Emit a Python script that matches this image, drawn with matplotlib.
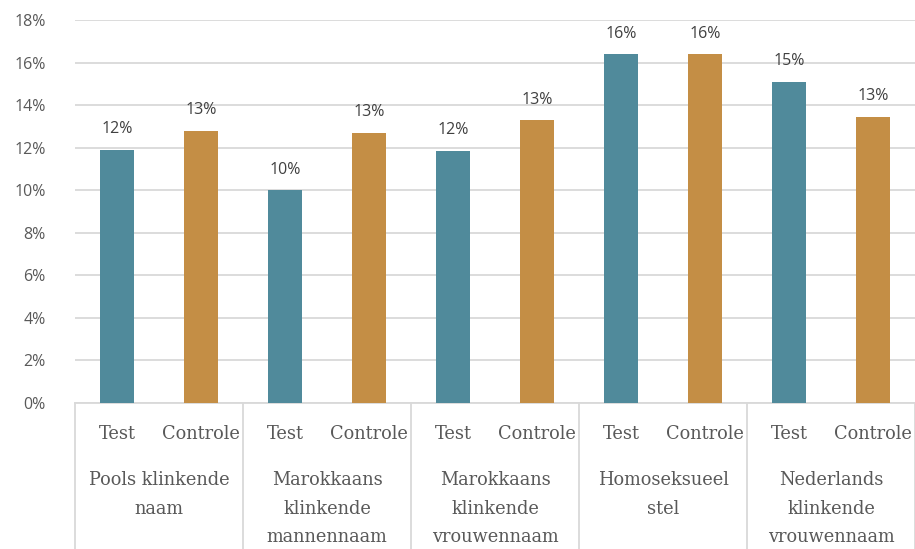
import matplotlib.pyplot as plt
import matplotlib.transforms as mtrans
import numpy as np

groups = ['Pools klinkende\nnaam', 'Marokkaans\nklinkende\nmannennaam',
          'Marokkaans\nklinkende\nvrouwennaam', 'Homoseksueel\nstel',
          'Nederlands\nklinkende\nvrouwennaam']
sub_labels = ['Test', 'Controle']
test = [11.9, 10.0, 11.85, 16.4, 15.1]
controle = [12.8, 12.7, 13.3, 16.4, 13.45]
test_lbl = ['12%', '10%', '12%', '16%', '15%']
controle_lbl = ['13%', '13%', '13%', '16%', '13%']

c_test = '#508A9B'
c_ctrl = '#C48E45'
grid_c = '#D9D9D9'
txt_c = '#595959'

fig = plt.figure(figsize=(9.15, 5.49), dpi=100)
ax = fig.add_axes([75 / 915, 146 / 549, 840 / 915, 383 / 549])

n = len(groups)
x_test = np.arange(n) * 2
x_ctrl = np.arange(n) * 2 + 1
width = 0.4
b1 = ax.bar(x_test, test, width, color=c_test, zorder=3)
b2 = ax.bar(x_ctrl, controle, width, color=c_ctrl, zorder=3)
ax.bar_label(b1, labels=test_lbl, padding=9, fontsize=11.5, color='#404040', family='Open Sans')
ax.bar_label(b2, labels=controle_lbl, padding=9, fontsize=11.5, color='#404040', family='Open Sans')

ax.set_xlim(-0.5, 2 * n - 0.5)
ax.set_ylim(0, 18)
ax.set_yticks(np.arange(0, 19, 2))
ax.set_yticklabels([f'{v}%' for v in range(0, 19, 2)], fontsize=11.5, color=txt_c, family='Open Sans')
ax.yaxis.grid(True, color=grid_c, linewidth=1.3, zorder=0)
ax.tick_params(axis='y', length=0, pad=21)
ax.set_xticks([])
for s in ['top', 'right', 'left']:
    ax.spines[s].set_visible(False)
ax.spines['bottom'].set_color(grid_c)
ax.spines['bottom'].set_linewidth(1.3)

trans = mtrans.blended_transform_factory(ax.transData, ax.transAxes)
for i in range(n):
    for j, lab in enumerate(sub_labels):
        ax.text(2 * i + j, -0.082, lab, transform=trans, ha='center', va='center',
                fontsize=12.8, color=txt_c, family='DejaVu Serif')
    ax.text(2 * i + 0.5, -0.178, groups[i], transform=trans, ha='center', va='top',
            fontsize=12.8, color=txt_c, family='DejaVu Serif', linespacing=1.75)
for k in range(n + 1):
    ax.plot([2 * k - 0.5, 2 * k - 0.5], [0, -0.4], transform=trans, color=grid_c,
            linewidth=1.3, clip_on=False)

fig.savefig('out.png', dpi=100)
